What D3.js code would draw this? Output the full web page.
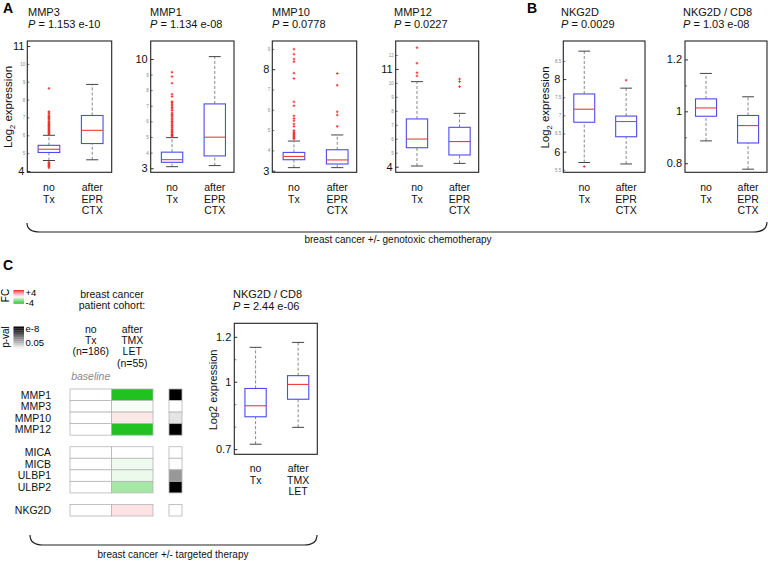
<!DOCTYPE html>
<html><head><meta charset="utf-8">
<script src="https://cdn.jsdelivr.net/npm/d3@7"></script>
<style>body{margin:0;background:#fff}svg{display:block;font-family:"Liberation Sans",Arial,sans-serif}</style>
</head><body><script>
// ---------------- DATA ----------------
const labelsCTX = [["no","Tx"],["after","EPR","CTX"]];
const labelsTMX = [["no","Tx"],["after","TMX","LET"]];
// box stats per group: [lower whisker, Q1, median, Q3, upper whisker]
const mmp3Box = [[4.59,5.04,5.22,5.44,6.0],[4.63,5.54,6.28,7.11,8.85]];
const mmp3Out = [[6.05,6.1,6.15,6.2,6.25,6.3,6.35,6.4,6.45,6.5,6.55,6.6,6.65,6.7,6.75,6.8,6.9,6.95,7.0,7.05,7.1,7.2,7.25,7.33,8.63,4.5,4.45,4.4,4.35,4.3,4.25,4.18],[]];
const mmp1Box = [[3.1,3.38,3.55,4.03,4.96],[3.17,3.79,4.99,7.12,10.15]];
const mmp1Out = [[5.05,5.1,5.15,5.2,5.3,5.35,5.45,5.5,5.6,5.7,5.75,5.85,5.95,6.0,6.1,6.2,6.3,6.4,6.45,6.55,6.7,6.8,6.9,7.0,7.1,7.2,7.27,7.59,7.74,8.45,8.87,9.15],[]];
const mmp10Box = [[3.15,3.54,3.7,3.9,4.46],[3.15,3.33,3.53,4.03,4.76]];
const mmp10Out = [[4.57,4.6,4.65,4.7,4.75,4.8,4.85,4.9,4.98,5.18,5.3,5.46,5.57,5.7,6.2,6.39,7.54,7.81,8.37,8.5,8.74,8.99],[5.18,5.74,5.9,7.21,7.79]];
const mmp12Box = [[4.05,5.36,5.98,7.42,10.09],[4.24,4.84,5.8,6.82,7.82]];
const mmp12Out = [[10.5,10.73,11.41,12.52],[9.73,10.09,10.28]];
const nkg2dBox = [[5.7,6.81,7.17,7.59,8.77],[5.66,6.41,6.83,6.98,7.75]];
const nkg2dOut = [[5.59],[7.97]];
const cd8Box = [[0.886,0.981,1.013,1.048,1.146],[0.777,0.878,0.945,0.984,1.056]];
const cd8Out = [[],[]];
const cd8TBox = [[0.722,0.844,0.893,0.970,1.153],[0.797,0.922,0.988,1.027,1.175]];
const cd8TOut = [[],[]];
// heatmap (panel C)
const hmGenes = ["MMP1","MMP3","MMP10","MMP12","MICA","MICB","ULBP1","ULBP2","NKG2D"];
const hmGroup = [0,0,0,0,1,1,1,1,2];
const hmBaselineFC = [0,0,0,0,0,0,0,0,0];
const hmTreatedFC = [-4,-0.15,0.45,-4,0,-0.3,-0.35,-1.6,0.55];
const hmPval = [1e-9,0.6,0.01,1e-9,0.7,0.5,1e-4,1e-9,0.5];

// ---------------- LAYOUT ----------------
const svg = d3.select("body").append("svg").attr("width",768).attr("height",562);
const BOX_BLUE = "#4b4bf0", MED_RED = "#ee3b3b", OUT_RED = "#ee2a2a";

function boxPanel(cfg){
  const g = svg.append("g");
  const y = d3.scaleLinear().domain(cfg.dom).range([cfg.bottom, cfg.top]);
  const x = d3.scaleLinear().domain([0.5,2.45]).range([cfg.x0, cfg.x1]);
  const hw = (x(1.25)-x(0.75))/2, cw = (x(1.14)-x(0.86))/2;
  const ax = g.append("g").attr("transform",`translate(${cfg.x0},0)`)
    .call(d3.axisLeft(y).tickValues(cfg.major).tickSize(-3).tickPadding(3).tickFormat(d=>String(d)));
  ax.select(".domain").remove();
  ax.selectAll("text").attr("font-size",11).attr("font-family","Liberation Sans, Arial").attr("fill","#111");
  ax.selectAll("line").attr("stroke","#333");
  const ax2 = g.append("g").attr("transform",`translate(${cfg.x0},0)`)
    .call(d3.axisLeft(y).tickValues(cfg.minor).tickSize(-2).tickPadding(2).tickFormat(cfg.minorLabels ? (d=>String(d)) : ""));
  ax2.select(".domain").remove();
  ax2.selectAll("text").attr("font-size",4.5).attr("font-family","Liberation Sans, Arial").attr("fill","#888");
  ax2.selectAll("line").attr("stroke","#777");
  cfg.box.forEach((s,i)=>{
    const cx = x(i+1);
    g.append("line").attr("x1",cx).attr("x2",cx).attr("y1",y(s[3])).attr("y2",y(s[4]))
      .attr("stroke","#888").attr("stroke-dasharray","3,2");
    g.append("line").attr("x1",cx).attr("x2",cx).attr("y1",y(s[0])).attr("y2",y(s[1]))
      .attr("stroke","#888").attr("stroke-dasharray","3,2");
    [s[0],s[4]].forEach(v=>g.append("line").attr("x1",cx-cw).attr("x2",cx+cw).attr("y1",y(v)).attr("y2",y(v)).attr("stroke","#444"));
    g.append("rect").attr("x",cx-hw).attr("width",2*hw).attr("y",y(s[3])).attr("height",y(s[1])-y(s[3]))
      .attr("fill","none").attr("stroke",BOX_BLUE).attr("stroke-width",1.1);
    g.append("line").attr("x1",cx-hw).attr("x2",cx+hw).attr("y1",y(s[2])).attr("y2",y(s[2])).attr("stroke",MED_RED).attr("stroke-width",1.1);
    cfg.out[i].forEach(v=>{
      g.append("path").attr("d",`M${cx-1.3},${y(v)}h2.6M${cx},${y(v)-1.3}v2.6`).attr("stroke",OUT_RED).attr("stroke-width",0.9);
    });
    const t = g.append("text").attr("x",cx).attr("font-size",10.5).attr("text-anchor","middle").attr("fill","#111");
    cfg.labels[i].forEach((l,k)=>t.append("tspan").attr("x",cx).attr("y",cfg.labelY + k*11.6).text(l));
  });
  g.append("rect").attr("x",cfg.x0).attr("y",cfg.top).attr("width",cfg.x1-cfg.x0).attr("height",cfg.bottom-cfg.top)
    .attr("fill","none").attr("stroke","#222").attr("stroke-width",1.1);
  g.append("text").attr("x",cfg.tx).attr("y",cfg.top-25.5).attr("font-size",11).attr("fill","#111").text(cfg.title);
  const p = g.append("text").attr("x",cfg.tx).attr("y",cfg.top-13).attr("font-size",11).attr("fill","#111");
  p.append("tspan").attr("font-style","italic").text("P");
  p.append("tspan").text(" = " + cfg.p);
}

const A_TOP = 41, A_BOT = 172.3;
const panels = [
  {title:"MMP3", p:"1.153 e-10", box:mmp3Box, out:mmp3Out, dom:[3.93,11.28], major:[4,11], minor:[5,6,7,8,9,10], minorLabels:true, x0:27.3, x1:111.7, tx:28},
  {title:"MMP1", p:"1.134 e-08", box:mmp1Box, out:mmp1Out, dom:[2.74,11.15], major:[3,10], minor:[4,5,6,7,8,9], minorLabels:true, x0:150.7, x1:234, tx:150},
  {title:"MMP10", p:"0.0778", box:mmp10Box, out:mmp10Out, dom:[2.92,9.39], major:[3,8], minor:[4,5,6,7,9], minorLabels:true, x0:272.3, x1:356.7, tx:272},
  {title:"MMP12", p:"0.0227", box:mmp12Box, out:mmp12Out, dom:[3.6,13.0], major:[4,11], minor:[5,6,7,8,9,10,12], minorLabels:true, x0:395.7, x1:478.7, tx:394},
  {title:"NKG2D", p:"0.0029", box:nkg2dBox, out:nkg2dOut, dom:[5.43,9.05], major:[6,8], minor:[5.5,6.5,7,7.5,8.5], minorLabels:true, x0:563.3, x1:645, tx:561},
  {title:"NKG2D / CD8", p:"1.03 e-08", box:cd8Box, out:cd8Out, dom:[0.765,1.271], major:[0.8,1,1.2], minor:[0.9,1.1], minorLabels:false, x0:685, x1:767, tx:683}
];
panels.forEach(c=>boxPanel(Object.assign({top:A_TOP, bottom:A_BOT, labels:labelsCTX, labelY:191}, c)));
boxPanel({title:"NKG2D / CD8", p:"2.44 e-06", box:cd8TBox, out:cd8TOut, dom:[0.677,1.26], major:[0.7,1,1.2], minor:[0.8,0.9,1.1], minorLabels:false,
  x0:234.3, x1:317.3, tx:233, top:323.3, bottom:454.3, labels:labelsTMX, labelY:472});

function ylab(x, y, sub, size){
  const t = svg.append("text").attr("transform",`translate(${x},${y}) rotate(-90)`).attr("text-anchor","middle").attr("font-size",size).attr("fill","#111");
  if(sub){ t.append("tspan").text("Log"); t.append("tspan").attr("font-size",size*0.65).attr("dy",3).text("2"); t.append("tspan").attr("dy",-3).text(" expression"); }
  else t.text("Log2 expression");
}
ylab(12, 107, true, 11.5);
ylab(549, 107.5, true, 11.5);
ylab(216.5, 390, false, 11);

[["A",3,13],["B",527,13],["C",3,270]].forEach(([l,x,y])=>svg.append("text").attr("x",x).attr("y",y).attr("font-size",14).attr("font-weight","bold").attr("fill","#000").text(l));

svg.append("path").attr("d","M27,223 Q27,232 40,232 L753,232 Q767,232 767,222").attr("fill","none").attr("stroke","#222").attr("stroke-width",1.2);
svg.append("text").attr("x",398).attr("y",243).attr("text-anchor","middle").attr("font-size",10).attr("fill","#111").text("breast cancer +/- genotoxic chemotherapy");
svg.append("path").attr("d","M30,535 Q30,545 43,545 L304,545 Q317,545 317,535").attr("fill","none").attr("stroke","#222").attr("stroke-width",1.2);
svg.append("text").attr("x",173).attr("y",558).attr("text-anchor","middle").attr("font-size",10).attr("fill","#111").text("breast cancer +/- targeted therapy");

// ---------------- HEATMAP ----------------
const fcColor = d3.scaleLinear().domain([-4,0,4]).range(["#1fc21f","#ffffff","#e82a2a"]).clamp(true);
const pColor = d3.scaleLinear().domain([-Math.log10(0.05), 8]).range(["#ffffff","#000000"]).clamp(true);
const rowSlot = hmGenes.map((g,i)=>i + hmGroup[i]);
const yRow = d3.scaleBand().domain(d3.range(11)).range([389,516]);
const xCol = d3.scaleBand().domain(["baseline","treated"]).range([70,153]);
const xP = d3.scaleBand().domain(["p"]).range([169,182]);
const hg = svg.append("g");
hmGenes.forEach((gname,i)=>{
  const yy = yRow(rowSlot[i]), h = yRow.bandwidth();
  hg.append("rect").attr("x",xCol("baseline")).attr("y",yy).attr("width",xCol.bandwidth()).attr("height",h)
    .attr("fill",fcColor(hmBaselineFC[i])).attr("stroke","#b5b5b5").attr("stroke-width",0.8);
  hg.append("rect").attr("x",xCol("treated")).attr("y",yy).attr("width",xCol.bandwidth()).attr("height",h)
    .attr("fill",fcColor(hmTreatedFC[i])).attr("stroke","#b5b5b5").attr("stroke-width",0.8);
  hg.append("rect").attr("x",xP("p")).attr("y",yy).attr("width",xP.bandwidth()).attr("height",h)
    .attr("fill",pColor(-Math.log10(hmPval[i]))).attr("stroke","#b5b5b5").attr("stroke-width",0.8);
  hg.append("text").attr("x",51).attr("y",yy+h/2+3.8).attr("text-anchor","end").attr("font-size",10.5).attr("fill","#111").text(gname);
});
function lines(x, y0, arr, step, opts){
  const t = svg.append("text").attr("text-anchor","middle").attr("font-size",10.5).attr("fill","#111");
  if(opts) Object.entries(opts).forEach(([k,v])=>t.attr(k,v));
  arr.forEach((l,k)=>t.append("tspan").attr("x",x).attr("y",y0+k*step).text(l));
}
lines(112, 298, ["breast cancer","patient cohort:"], 11.2);
lines(xCol("baseline")+xCol.bandwidth()/2, 333, ["no","Tx","(n=186)"], 11.2);
lines(xCol("treated")+xCol.bandwidth()/2, 333, ["after","TMX","LET","(n=55)"], 11.2);
lines(xCol("baseline")+xCol.bandwidth()/2, 380, ["baseline"], 11, {"font-style":"italic","fill":"#8a8a8a"});

const lg = svg.append("g");
const nb = 12;
const fcBand = d3.scaleBand().domain(d3.range(nb)).range([290,303.5]);
d3.range(nb).forEach(k=>{
  const v = 4 - 8*(k+0.5)/nb;
  lg.append("rect").attr("x",13.5).attr("y",fcBand(k)).attr("width",10.5).attr("height",fcBand.bandwidth()+0.3).attr("fill",fcColor(v));
});
const pBand = d3.scaleBand().domain(d3.range(nb)).range([326.5,348.5]);
d3.range(nb).forEach(k=>{
  const v = 8 - (8-1.3)*(k+0.5)/nb;
  lg.append("rect").attr("x",13.5).attr("y",pBand(k)).attr("width",10.5).attr("height",pBand.bandwidth()+0.3).attr("fill",pColor(v));
});
lg.append("text").attr("x",25.5).attr("y",296).attr("font-size",9.5).text("+4");
lg.append("text").attr("x",25.5).attr("y",306).attr("font-size",9.5).text("-4");
lg.append("text").attr("x",25.5).attr("y",331.5).attr("font-size",9.5).text("e-8");
lg.append("text").attr("x",25.5).attr("y",346).attr("font-size",9.5).text("0.05");
lg.append("text").attr("transform","translate(9,295.5) rotate(-90)").attr("text-anchor","middle").attr("font-size",10).text("FC");
lg.append("text").attr("transform","translate(9,337) rotate(-90)").attr("text-anchor","middle").attr("font-size",10).text("p-val");
</script></body></html>
